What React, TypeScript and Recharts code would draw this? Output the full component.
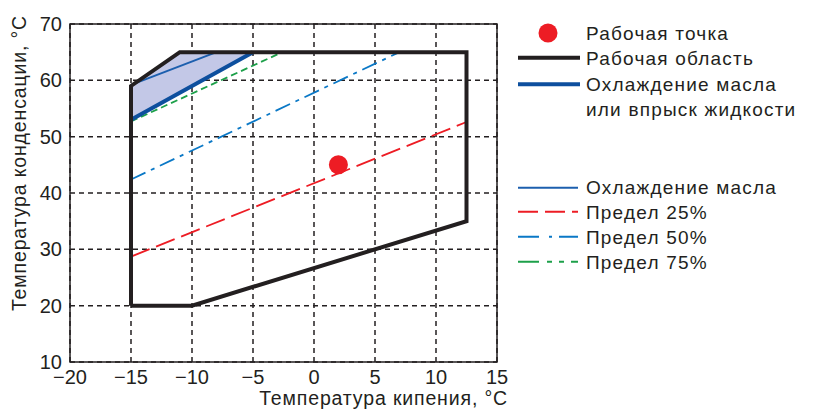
import React from 'react';
import {
  ComposedChart,
  Line,
  Area,
  Scatter,
  XAxis,
  YAxis,
  CartesianGrid,
  ReferenceArea,
  Legend,
  Customized,
} from 'recharts';

// Рабочая область (замкнутый контур)
const envelopeX = [-15, -10, 12.5, 12.5, -11, -15, -15];
const envelopeY = [20, 20, 35, 65, 65, 59, 20];

// Заливка: охлаждение масла или впрыск жидкости
const fillX = [-15, -11, -5];
const fillLow = [53, 57.8, 65];
const fillHigh = [59, 65, 65];

// Граница "Охлаждение масла или впрыск жидкости"
const injectionX = [-15, -5];
const injectionY = [53, 65];

// Охлаждение масла (тонкая линия)
const oilX = [-15, -8];
const oilY = [59.2, 65];

// Пределы
const limit25X = [-15, 12.5];
const limit25Y = [28.7, 52.6];
const limit50X = [-15, 7];
const limit50Y = [42.4, 65];
const limit75X = [-15, -3];
const limit75Y = [52.7, 64.6];

// Рабочая точка
const pointX = [2];
const pointY = [45];

const xTicks = [-20, -15, -10, -5, 0, 5, 10, 15];
const yTicks = [10, 20, 30, 40, 50, 60, 70];

const COLORS = {
  ink: '#231f20',
  red: '#ed1c24',
  blueDark: '#0d4f9e',
  blueThin: '#1c5fae',
  blueLight: '#0a78c6',
  green: '#1da04a',
  fill: '#c3c8e7',
};

const toPoints = (xs: number[], ys: number[]) => xs.map((x, i) => ({ x, y: ys[i] }));

const envelopeData = toPoints(envelopeX, envelopeY);
const injectionData = toPoints(injectionX, injectionY);
const oilData = toPoints(oilX, oilY);
const limit25Data = toPoints(limit25X, limit25Y);
const limit50Data = toPoints(limit50X, limit50Y);
const limit75Data = toPoints(limit75X, limit75Y);
const pointData = toPoints(pointX, pointY);
const fillData = fillX.map((x, i) => ({ x, range: [fillLow[i], fillHigh[i]] }));

const FONT = '"Liberation Sans", Arial, sans-serif';
const fmt = (v: number) => String(v).replace('-', '\u2212');

const renderLegend = () => {
  const lx1 = 18;
  const lx2 = 80;
  const tx = 86;
  const txt = { fontSize: 19, letterSpacing: 1.2, fill: COLORS.ink, fontFamily: FONT };
  return (
    <svg width={315} height={280}>
      <circle cx={48} cy={33} r={9.5} fill={COLORS.red} />
      <text x={tx} y={40} {...txt}>Рабочая точка</text>

      <line x1={lx1} x2={lx2} y1={57.7} y2={57.7} stroke={COLORS.ink} strokeWidth={4} />
      <text x={tx} y={64.7} {...txt}>Рабочая область</text>

      <line x1={lx1} x2={lx2} y1={84.3} y2={84.3} stroke={COLORS.blueDark} strokeWidth={4} />
      <text x={tx} y={90.7} {...txt}>Охлаждение масла</text>
      <text x={tx} y={115.7} {...txt}>или впрыск жидкости</text>

      <line x1={lx1} x2={lx2 - 2} y1={187.7} y2={187.7} stroke={COLORS.blueThin} strokeWidth={2} />
      <text x={tx} y={193.7} {...txt}>Охлаждение масла</text>

      <line x1={lx1} x2={lx2 - 2} y1={211.7} y2={211.7} stroke={COLORS.red} strokeWidth={2} strokeDasharray="20 7" />
      <text x={tx} y={218.7} {...txt}>Предел 25%</text>

      <line x1={lx1} x2={lx2 - 2} y1={236.7} y2={236.7} stroke={COLORS.blueLight} strokeWidth={2} strokeDasharray="21 10 3 7 19" />
      <text x={tx} y={243.7} {...txt}>Предел 50%</text>

      <line x1={lx1} x2={lx2 - 2} y1={261.7} y2={261.7} stroke={COLORS.green} strokeWidth={2} strokeDasharray="21 8 5 7 5 7 7" />
      <text x={tx} y={268.7} {...txt}>Предел 75%</text>
    </svg>
  );
};

const AxisTitles = () => (
  <g fontFamily={FONT} fill={COLORS.ink} fontSize={19.5} letterSpacing={0.85}>
    <text x={508} y={404.5} textAnchor="end">Температура кипения, °С</text>
    <text x={26} y={163} textAnchor="middle" transform="rotate(-90 26 163)">
      Температура конденсации, °С
    </text>
  </g>
);

export default function App() {
  const tickStyle = { fontSize: 20, fill: COLORS.ink, fontFamily: FONT };
  return (
    <div style={{ position: 'absolute', left: 0, top: 0, width: 815, height: 409, background: '#fff', fontFamily: FONT }}>
      <ComposedChart width={815} height={409} margin={{ top: 24, right: 318, bottom: 0, left: 0 }}>
        <XAxis
          type="number"
          dataKey="x"
          domain={[-20, 15]}
          ticks={xTicks}
          tickFormatter={fmt}
          tick={tickStyle}
          tickLine={false}
          axisLine={false}
          height={47}
          allowDataOverflow
        />
        <YAxis
          type="number"
          domain={[10, 70]}
          ticks={yTicks}
          tick={tickStyle}
          tickLine={false}
          axisLine={false}
          width={70}
          allowDataOverflow
        />
        <Area
          data={fillData}
          dataKey="range"
          type="linear"
          fill={COLORS.fill}
          fillOpacity={1}
          stroke="none"
          isAnimationActive={false}
          legendType="none"
        />
        <CartesianGrid stroke={COLORS.ink} strokeWidth={1.5} strokeDasharray="5 4" />
        <ReferenceArea x1={-20} x2={15} y1={10} y2={70} fill="none" fillOpacity={0} stroke={COLORS.ink} strokeWidth={1.5} />
        <Line data={limit25Data} dataKey="y" type="linear" stroke={COLORS.red} strokeWidth={1.8} strokeDasharray="20 7" dot={false} activeDot={false} isAnimationActive={false} />
        <Line data={limit50Data} dataKey="y" type="linear" stroke={COLORS.blueLight} strokeWidth={1.8} strokeDasharray="16 6 4 6" dot={false} activeDot={false} isAnimationActive={false} />
        <Line data={limit75Data} dataKey="y" type="linear" stroke={COLORS.green} strokeWidth={1.8} strokeDasharray="7 4" dot={false} activeDot={false} isAnimationActive={false} />
        <Line data={oilData} dataKey="y" type="linear" stroke={COLORS.blueThin} strokeWidth={2} dot={false} activeDot={false} isAnimationActive={false} />
        <Line data={injectionData} dataKey="y" type="linear" stroke={COLORS.blueDark} strokeWidth={4} dot={false} activeDot={false} isAnimationActive={false} />
        <Line data={envelopeData} dataKey="y" type="linear" stroke={COLORS.ink} strokeWidth={4} strokeLinejoin="miter" dot={false} activeDot={false} isAnimationActive={false} />
        <Scatter
          data={pointData}
          dataKey="y"
          isAnimationActive={false}
          shape={(p: any) => <circle cx={p.cx} cy={p.cy} r={9.5} fill={COLORS.red} />}
        />
        <Legend
          layout="vertical"
          align="center"
          verticalAlign="middle"
          content={renderLegend}
          wrapperStyle={{ position: 'absolute', left: 500, top: 0, width: 315, height: 280 }}
        />
        <Customized component={AxisTitles} />
      </ComposedChart>
    </div>
  );
}
